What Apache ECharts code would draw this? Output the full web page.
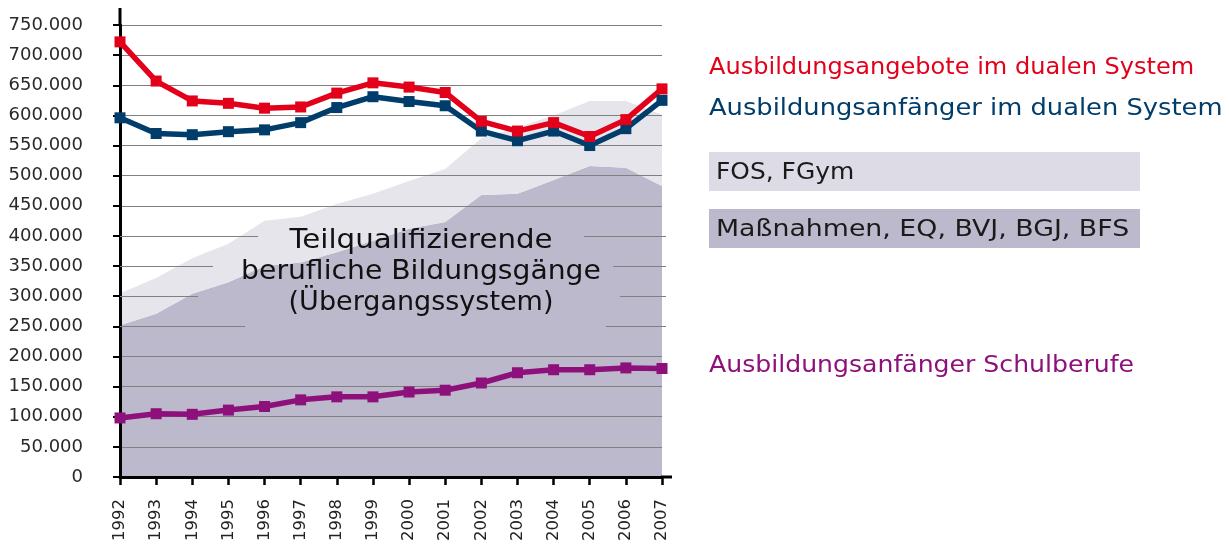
<!DOCTYPE html>
<html>
<head>
<meta charset="utf-8">
<title>Ausbildungsangebote und Übergangssystem</title>
<script src="https://cdn.jsdelivr.net/npm/echarts@6/dist/echarts.min.js"></script>
<style>html,body{margin:0;padding:0;background:#fff;}</style>
</head>
<body>
<div id="main" style="width:1229px;height:545px;"></div>
<script>
// Jahre
var years = ['1992','1993','1994','1995','1996','1997','1998','1999','2000','2001','2002','2003','2004','2005','2006','2007'];
// Ausbildungsangebote im dualen System
var angebote = [722000, 657000, 624000, 620000, 612000, 614000, 637000, 654000, 647000, 638000, 590000, 574000, 588000, 565000, 593000, 644000];
// Ausbildungsanfänger im dualen System
var anfaengerDual = [596000, 570000, 568000, 573000, 576000, 588000, 613000, 631000, 623000, 616000, 574000, 558000, 574000, 550000, 578000, 625000];
// Ausbildungsanfänger Schulberufe
var schulberufe = [98000, 105000, 104000, 111000, 117000, 128000, 133000, 133000, 141000, 144000, 156000, 173000, 178000, 178000, 181000, 180000];
// Maßnahmen, EQ, BVJ, BGJ, BFS
var massnahmen = [252000, 271000, 304000, 323000, 350000, 356000, 373000, 392000, 412000, 423000, 468000, 470000, 493000, 516000, 513000, 483000];
// FOS, FGym (gestapelt auf Maßnahmen)
var fos = [53000, 59000, 59000, 64000, 75000, 76000, 80000, 78000, 79000, 88000, 94000, 110000, 107000, 108000, 111000, 118000];

var seriesNames = ['Ausbildungsangebote im dualen System', 'Ausbildungsanfänger im dualen System', 'FOS, FGym', 'Maßnahmen, EQ, BVJ, BGJ, BFS', 'Ausbildungsanfänger Schulberufe'];
var areaLines = ['Teilqualifizierende', 'berufliche Bildungsgänge', '(Übergangssystem)'];

var font = 'DejaVu Sans';
var red = '#e2001a', blue = '#013d6b', purple = '#8e117b';
var lightArea = '#e6e5ec', darkArea = '#bcb9cc';

var myChart = echarts.init(document.getElementById('main'));

// Gitterlinien 250.000 - 400.000 werden vom Textblock unterbrochen
var gridColors = [];
for (var i = 0; i <= 15; i++) {
    gridColors.push(i >= 5 && i <= 8 ? 'rgba(0,0,0,0)' : '#808080');
}
function gridPiece(v, x1, x2) {
    return [{coord: ['1992', v], x: x1}, {coord: ['1992', v], x: x2}];
}

function lineSeries(name, data, color) {
    return {
        name: name,
        type: 'line',
        data: data,
        symbol: 'rect',
        symbolSize: 11,
        lineStyle: {color: color, width: 5.5},
        itemStyle: {color: color},
        z: 3,
        silent: true
    };
}

function label(text, x, y, color, sx) {
    return {
        type: 'text', x: x, y: y, scaleX: sx, z: 10,
        style: {text: text, fontFamily: font, fontSize: 23.5, fill: color, textVerticalAlign: 'middle'}
    };
}

function areaLabel(text, y, sx) {
    return {
        type: 'text', x: 421, y: y, scaleX: sx, z: 10,
        style: {text: text, fontFamily: font, fontSize: 27, fill: '#111', textAlign: 'center', textVerticalAlign: 'middle'}
    };
}

var option = {
    animation: false,
    grid: {left: 120, right: 567, top: 25, bottom: 68, containLabel: false, outerBoundsMode: 'none'},
    xAxis: {
        type: 'category',
        data: years,
        boundaryGap: false,
        axisLine: {lineStyle: {color: '#000', width: 3}},
        axisTick: {length: 8, lineStyle: {color: '#000', width: 2.5}},
        axisLabel: {rotate: 90, margin: 22, fontFamily: font, fontSize: 16.5, color: '#222', interval: 0},
        splitLine: {show: false}
    },
    yAxis: {
        type: 'value',
        min: 0,
        max: 750000,
        interval: 50000,
        axisLine: {show: true, lineStyle: {color: '#000', width: 3}},
        axisTick: {show: true, length: 7, lineStyle: {color: '#000', width: 2}},
        axisLabel: {
            margin: 37, fontFamily: font, fontSize: 18, color: '#2a2a2a',
            formatter: function (v) { return v === 0 ? '0' : (v / 1000) + '.000'; }
        },
        splitLine: {show: true, lineStyle: {color: gridColors, width: 1}}
    },
    series: [
        {
            name: seriesNames[3],
            type: 'line',
            stack: 'uebergang',
            data: massnahmen,
            showSymbol: false,
            lineStyle: {width: 0},
            areaStyle: {color: darkArea, opacity: 1},
            z: -1,
            silent: true,
            markLine: {
                silent: true,
                symbol: 'none',
                label: {show: false},
                lineStyle: {color: '#808080', width: 1, type: 'solid'},
                data: [
                    gridPiece(400000, 120, 258), gridPiece(400000, 584, 666),
                    gridPiece(350000, 120, 213), gridPiece(350000, 613, 666),
                    gridPiece(300000, 120, 198), gridPiece(300000, 620, 666),
                    gridPiece(250000, 120, 245), gridPiece(250000, 606, 666)
                ]
            }
        },
        {
            name: seriesNames[2],
            type: 'line',
            stack: 'uebergang',
            data: fos,
            showSymbol: false,
            lineStyle: {width: 0},
            areaStyle: {color: lightArea, opacity: 1},
            z: -1,
            silent: true
        },
        lineSeries(seriesNames[4], schulberufe, purple),
        lineSeries(seriesNames[1], anfaengerDual, blue),
        lineSeries(seriesNames[0], angebote, red)
    ],
    graphic: [
        // Achsenverlängerungen
        {type: 'line', shape: {x1: 120, y1: 8, x2: 120, y2: 26}, style: {stroke: '#000', lineWidth: 3}, z: 10},
        {type: 'line', shape: {x1: 661, y1: 477, x2: 672, y2: 477}, style: {stroke: '#000', lineWidth: 3}, z: 10},
        // Beschriftung Übergangssystem
        areaLabel(areaLines[0], 241, 1.085),
        areaLabel(areaLines[1], 272, 1.045),
        areaLabel(areaLines[2], 303, 1.0),
        // Legende
        label(seriesNames[0], 709, 67.5, red, 1.023),
        label(seriesNames[1], 709, 108.5, blue, 1.096),
        {type: 'rect', shape: {x: 709, y: 152, width: 431, height: 39}, style: {fill: '#dddbe6'}},
        label(seriesNames[2], 716, 172.5, '#1a1a1a', 1.06),
        {type: 'rect', shape: {x: 709, y: 209, width: 431, height: 39}, style: {fill: darkArea}},
        label(seriesNames[3], 716, 229.5, '#1a1a1a', 1.14),
        label(seriesNames[4], 709, 365.5, purple, 1.07)
    ]
};

myChart.setOption(option);
</script>
</body>
</html>
